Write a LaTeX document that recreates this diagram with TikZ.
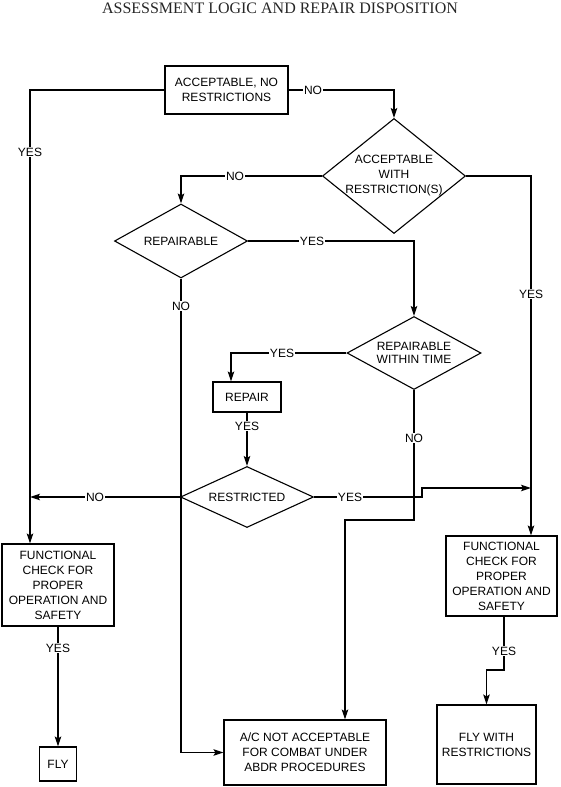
\documentclass[tikz,border=0pt]{standalone}
\usepackage{fontspec}
\setmainfont{Liberation Sans}
\newfontfamily\titlefont{Liberation Serif}
\usetikzlibrary{shapes.geometric,arrows.meta}
\begin{document}
\begin{tikzpicture}[x=1pt,y=-1pt,
  every node/.style={font=\fontsize{12}{15}\selectfont},
  box/.style={draw,line width=1.1pt,inner sep=0pt,align=center},
  dia/.style={draw,shape=diamond,line width=1.1pt,inner sep=0pt},
  txt/.style={align=center,inner sep=0pt},
  lbl/.style={fill=white,inner sep=1.2pt},
  arr/.style={line width=1.1pt,-{Stealth[length=10pt,width=6.5pt,inset=2pt]}},
]
\useasboundingbox (0,0) rectangle (560,787);
\node[font=\titlefont\fontsize{16}{18}\selectfont, anchor=base, text=black!85] (title) at (280,13) {ASSESSMENT LOGIC AND REPAIR DISPOSITION};

% boxes
\node[box,minimum width=123pt,minimum height=48pt] (b1) at (226.5,90) {ACCEPTABLE, NO\\RESTRICTIONS};
\node[box,minimum width=68pt,minimum height=30pt] (repair) at (247,397) {REPAIR};
\node[box,minimum width=112pt,minimum height=82pt] (fcl) at (58,585) {FUNCTIONAL\\CHECK FOR\\PROPER\\OPERATION AND\\SAFETY};
\node[box,minimum width=111pt,minimum height=80pt] (fcr) at (501.5,576) {FUNCTIONAL\\CHECK FOR\\PROPER\\OPERATION AND\\SAFETY};
\node[box,minimum width=37pt,minimum height=34pt] (fly) at (58,764) {FLY};
\node[box,minimum width=162pt,minimum height=65pt] (ac) at (305,752.5) {A/C NOT ACCEPTABLE\\FOR COMBAT UNDER\\ABDR PROCEDURES};
\node[box,minimum width=99pt,minimum height=79pt] (fwr) at (486.5,744.5) {FLY WITH\\RESTRICTIONS};

% diamonds
\node[dia,minimum width=143pt,minimum height=115pt] (d1) at (394,176) {};
\node[txt] (t1) at (394,176) {ACCEPTABLE\\WITH\\RESTRICTION(S)};
\node[dia,minimum width=133pt,minimum height=74pt] (d2) at (181,241) {};
\node[txt] (t2) at (181,241) {REPAIRABLE};
\node[dia,minimum width=134pt,minimum height=73pt] (d3) at (414,353) {};
\node[txt,font=\fontsize{12}{13.5}\selectfont] (t3) at (414,353) {REPAIRABLE\\WITHIN TIME};
\node[dia,minimum width=133pt,minimum height=61pt] (d4) at (247,497) {};
\node[txt] (t4) at (247,497) {RESTRICTED};

% helper coordinates
\coordinate (lx) at (30,0);
\coordinate (rx) at (531,0);
\coordinate (rp) at (231,0);
\coordinate (j1) at (422,497);
\coordinate (j2) at (422,488);
\coordinate (n1) at (414,520);
\coordinate (n2) at (345,520);
\coordinate (rb) at (504,670);

% connectors
\draw[arr] (b1.west) -| (lx |- fcl.north);
\draw[arr] (b1.east) -| (d1.north);
\draw[arr] (d1.west) -| (d2.north);
\draw[arr] (d1.east) -| (rx |- fcr.north);
\draw[arr] (d2.east) -| (d3.north);
\draw[arr] (d2.south) |- (ac.west);
\draw[arr] (d3.west) -| (rp |- repair.north);
\draw[arr] (repair.south) -- (d4.north);
\draw[arr] (d4.west) -- (lx |- d4.west);
\draw[arr] (d4.east) -- (j1) -- (j2) -- (rx |- j2);
\draw[arr] (d3.south) -- (n1) -- (n2) -- (n2 |- ac.north);
\draw[arr] (fcl.south) -- (fly.north);
\draw[arr] (rb |- fcr.south) -- (rb) -| (fwr.north);

% labels
\node[lbl] (l1) at (30,152) {YES};
\node[lbl] (l2) at (313,90) {NO};
\node[lbl] (l3) at (235,176) {NO};
\node[lbl] (l4) at (531,294) {YES};
\node[lbl] (l5) at (312,241) {YES};
\node[lbl] (l6) at (181,306) {NO};
\node[lbl] (l7) at (282,353) {YES};
\node[lbl] (l8) at (247,426) {YES};
\node[lbl] (l9) at (95,497) {NO};
\node[lbl] (l10) at (350,497) {YES};
\node[lbl] (l11) at (414,438) {NO};
\node[lbl] (l12) at (58,648) {YES};
\node[lbl] (l13) at (504,651) {YES};
\end{tikzpicture}
\end{document}
